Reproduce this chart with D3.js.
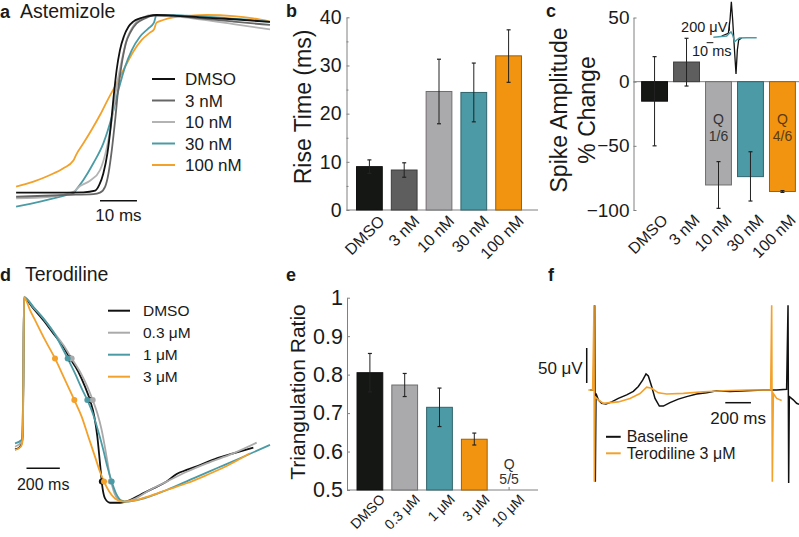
<!DOCTYPE html>
<html><head><meta charset="utf-8">
<script src="https://cdn.jsdelivr.net/npm/d3@7"></script>
<style>
body{margin:0;background:#fff}
svg{display:block}
text{font-family:"Liberation Sans",Arial,Helvetica,sans-serif;fill:#1a1a1a}
</style>
</head><body>
<svg id="chart" width="799" height="537"></svg>
<script>
// ---------------- DATA ----------------
// Panel a: Astemizole action potential upstrokes (time ms, normalized voltage)
const aDMSO = [[0.3,0.002],[9.5,0.002],[18.5,0.004],[21.7,0.013],[22.8,0.045],[23.9,0.11],[25.0,0.223],[25.9,0.373],[26.6,0.522],[27.5,0.691],[28.4,0.803],[29.5,0.882],[30.7,0.934],[32.0,0.963],[33.8,0.981],[36.1,0.994],[38.3,1.0],[42.8,0.996],[50.0,0.987],[59.1,0.976],[69.0,0.961]];
const a3nM = [[0.3,-0.021],[14.0,-0.011],[21.2,-0.006],[23.0,0.002],[24.4,0.036],[25.3,0.11],[26.2,0.242],[27.1,0.41],[28.0,0.597],[28.9,0.728],[30.0,0.841],[31.3,0.906],[32.9,0.953],[35.2,0.981],[37.4,0.996],[42.8,0.996],[50.0,0.981],[59.1,0.963],[69.0,0.944]];
const a10nM = [[0.3,-0.03],[9.5,-0.021],[15.8,0.007],[17.6,0.039],[20.3,0.069],[23.0,0.129],[24.8,0.251],[26.2,0.41],[27.5,0.597],[28.9,0.747],[30.2,0.86],[31.6,0.925],[32.9,0.963],[34.7,0.987],[37.4,1.0],[42.8,0.994],[50.0,0.976],[59.1,0.949],[69.0,0.919]];
const a30nM = [[0.3,-0.077],[6.8,-0.049],[14.0,-0.011],[16.0,0.002],[16.5,0.017],[18.5,0.073],[21.2,0.167],[23.9,0.279],[26.2,0.429],[28.0,0.579],[29.8,0.71],[31.6,0.803],[33.8,0.878],[36.1,0.925],[37.6,0.957],[38.3,1.0],[41.0,1.0],[46.5,0.996],[54.6,0.987],[63.6,0.972],[69.0,0.961]];
const a100nM = [[0.3,0.036],[5.0,0.064],[9.5,0.101],[13.1,0.139],[15.8,0.182],[16.5,0.213],[18.5,0.279],[20.7,0.354],[23.0,0.438],[25.3,0.532],[27.5,0.616],[29.8,0.71],[32.0,0.794],[34.3,0.86],[36.5,0.901],[37.6,0.919],[38.3,0.957],[40.1,0.972],[42.8,0.987],[46.5,0.994],[51.9,1.0],[59.1,0.994],[64.5,0.981],[69.0,0.963]];
const aNames = ["DMSO","3 nM","10 nM","30 nM","100 nM"];
const aColors = ["#111111","#666666","#b3b3b3","#4a9ba5","#f3a12a"];
const aScaleBar = [23, 33]; // 10 ms

// Panel b: rise time (ms)
const bCats = ["DMSO","3 nM","10 nM","30 nM","100 nM"];
const bRise = [9.0, 8.3, 24.6, 24.4, 32.0];
const bLo = [7.6, 6.8, 17.9, 18.3, 26.5];
const bHi = [10.4, 9.8, 31.3, 30.5, 37.4];
const bTicks = [0,10,20,30,40];
const bMinor = [5,15,25,35];
const barColors = ["#151715","#5e5e5e","#aaa9ab","#4b9aa5","#f29410"];

// Panel c: spike amplitude % change
const cCats = ["DMSO","3 nM","10 nM","30 nM","100 nM"];
const cAmp = [-15.2, 15.3, -80.5, -74.0, -85.6];
const cLo = [-50, -3.4, -98.7, -93, -86.3];
const cHi = [19.5, 33.8, -62.3, -54.6, -84.9];
const cTicks = [50, 0, -50, -100];
const cQ = [null, null, "1/6", null, "4/6"];
// Panel c inset field potential spikes (ms, µV)
const iBlack = [[13,25],[23,92],[25.5,425],[27.5,883],[29.5,425],[32.5,-408],[34.5,-925],[36.5,-325],[38.5,-75],[43,-25]];
const iTeal = [[0.5,-8],[20.5,25],[24.5,92],[27,125],[29.5,50],[32.5,-117],[35.5,-75],[39.5,-25],[50.5,-17],[65.5,-17]];

// Panel d: Terodiline action potentials (ms, normalized voltage)
const dDMSO = [[6,0.255],[36,0.268],[46,0.285],[52,0.317],[56,0.577],[60,0.992],[76,0.984],[116,0.943],[176,0.886],[236,0.821],[296,0.756],[336,0.699],[386,0.634],[426,0.561],[456,0.496],[482,0.415],[500,0.317],[516,0.187],[530,0.073],[546,0.016],[576,-0.005],[636,-0.005],[696,0.008],[756,0.033],[836,0.065],[916,0.098],[976,0.135],[1036,0.155],[1116,0.179],[1216,0.212],[1316,0.236],[1436,0.264]];
const d03 = [[6,0.268],[46,0.293],[56,0.577],[60,1.0],[116,0.948],[176,0.894],[236,0.829],[296,0.764],[346,0.699],[396,0.634],[440,0.561],[472,0.496],[500,0.431],[526,0.35],[552,0.236],[576,0.122],[596,0.057],[626,0.011],[666,0.0],[716,0.011],[816,0.057],[916,0.098],[1036,0.146],[1156,0.187],[1316,0.236],[1456,0.288]];
const d1 = [[6,0.285],[46,0.301],[56,0.577],[60,0.997],[116,0.951],[176,0.894],[236,0.829],[286,0.756],[322,0.699],[366,0.626],[406,0.553],[440,0.496],[476,0.423],[506,0.342],[536,0.252],[560,0.171],[586,0.098],[612,0.041],[646,0.005],[676,0.0],[756,0.011],[916,0.057],[1076,0.114],[1216,0.163],[1356,0.212],[1536,0.277]];
const d3uM = [[6,0.252],[40,0.268],[52,0.301],[56,0.577],[60,0.997],[96,0.935],[136,0.87],[186,0.789],[246,0.699],[306,0.594],[362,0.496],[406,0.415],[446,0.317],[486,0.22],[516,0.146],[540,0.098],[572,0.049],[606,0.016],[656,0.0],[716,0.005],[816,0.028],[916,0.057],[1036,0.09],[1156,0.13],[1276,0.174],[1416,0.236]];
const dDotsDMSO = [[336,0.699],[456,0.496],[527,0.098]];
const dDots03 = [[346,0.699],[472,0.496],[580,0.098]];
const dDots1 = [[322,0.699],[440,0.496],[586,0.098]];
const dDots3 = [[246,0.699],[362,0.496],[540,0.098]];
const dNames = ["DMSO","0.3 \u03bcM","1 \u03bcM","3 \u03bcM"];
const dColors = ["#111111","#aaaaaa","#4a9ba5","#f3a12a"];
const dScaleBar = [75, 275]; // 200 ms

// Panel e: triangulation ratio
const eCats = ["DMSO","0.3 \u03bcM","1 \u03bcM","3 \u03bcM","10 \u03bcM"];
const eVal = [0.805, 0.773, 0.715, 0.632, null];
const eLo = [0.755, 0.743, 0.665, 0.617, null];
const eHi = [0.855, 0.803, 0.765, 0.648, null];
const eTicks = [0.5,0.6,0.7,0.8,0.9,1];
const eColors = ["#151715","#aaa9ab","#4b9aa5","#f29410","#ffffff"];

// Panel f: field potentials (ms, µV)
const fBase = [[15.6,0],[41.6,0],[46.8,57],[52,121],[57.1,-131],[62.4,-5],[80.5,-14],[106.5,-19],[140.3,-20],[184.5,-17],[236.4,-12],[301.4,-7],[353.3,-2],[392.3,5],[426.1,14],[452.1,23],[470.2,20],[496.2,5],[522.2,-12],[556,-23],[587.2,-23],[639.1,-18],[704.1,-13],[769,-9.5],[847,-5.7],[925,-3.8],[1003,-1],[1107,-2],[1237,-1],[1367,0],[1470,0],[1548,1],[1559,121],[1564,-133],[1569,-9.5],[1600,-14],[1626,-19],[1645,-20.5]];
const fTero = [[2.6,0],[36.4,0],[41.6,57],[46.8,121],[49.4,-131],[54.6,-9.5],[80.5,-14],[119.5,-19],[171.5,-18],[236.4,-17],[327.4,-12],[405.3,-5],[457.3,4],[496.2,2.4],[548.2,-4],[613.2,-5.7],[743,-4.8],[899,-2.4],[1055,-1],[1237,0],[1367,0],[1424,0],[1431.6,121],[1436.7,-131],[1444.5,-5],[1470.5,-12],[1509.5,-15]];
const fNames = ["Baseline","Terodiline 3 \u03bcM"];
const fColors = ["#111111","#f3a12a"];
const fScaleT = [1070, 1270]; // 200 ms
const fScaleV = [10, 60];     // 50 µV

// ---------------- DRAW ----------------
const svg = d3.select("#chart");
const AX = "#808080";

function panelLabel(x, y, letter, title, tx, tfs) {
  const t = svg.append("text").attr("x", x).attr("y", y).attr("font-size", 18);
  t.append("tspan").attr("font-weight", "bold").text(letter);
  if (title) svg.append("text").attr("x", tx).attr("y", y).attr("font-size", tfs).text(title);
}

// ---- Panel a ----
const aX = d3.scaleLinear().domain([0, 69]).range([15, 270]);
const aY = d3.scaleLinear().domain([0, 1]).range([193, 15]);
const aLine = d3.line().x(d => aX(d[0])).y(d => aY(d[1])).curve(d3.curveMonotoneX);
const aSeries = [aDMSO, a3nM, a10nM, a30nM, a100nM];
[4,3,2,1,0].forEach(i => {
  svg.append("path").attr("d", aLine(aSeries[i])).attr("fill","none")
    .attr("stroke", aColors[i]).attr("stroke-width", 1.8);
});
panelLabel(0, 18, "a", "Astemizole", 20, 19.5);
const aLeg = svg.append("g");
aNames.forEach((n, i) => {
  const y = 79 + i * 21.5;
  aLeg.append("line").attr("x1",152).attr("x2",175).attr("y1",y).attr("y2",y).attr("stroke",aColors[i]).attr("stroke-width",2);
  aLeg.append("text").attr("x",185).attr("y",y).attr("dy","0.36em").attr("font-size",17).text(n);
});
svg.append("line").attr("x1",aX(aScaleBar[0])).attr("x2",aX(aScaleBar[1])).attr("y1",200.7).attr("y2",200.7).attr("stroke","#111").attr("stroke-width",1.5);
svg.append("text").attr("x",(aX(aScaleBar[0])+aX(aScaleBar[1]))/2).attr("y",220.5).attr("text-anchor","middle").attr("font-size",17).text("10 ms");

// ---- generic bar helpers ----
function catLabels(g, scale, cats, y0, fs, off) {
  cats.forEach(c => {
    g.append("text")
      .attr("transform", `translate(${scale(c) + scale.bandwidth()/2 + off},${y0}) rotate(-45)`)
      .attr("text-anchor","end").attr("dy","0.72em").attr("font-size",fs).text(c);
  });
}
function errBars(g, scale, y, cats, lo, hi) {
  cats.forEach((c, i) => {
    if (lo[i] == null) return;
    const cx = scale(c) + scale.bandwidth()/2;
    g.append("line").attr("x1",cx).attr("x2",cx).attr("y1",y(lo[i])).attr("y2",y(hi[i])).attr("stroke","#222").attr("stroke-width",1);
    [lo[i], hi[i]].forEach(v => g.append("line").attr("x1",cx-2).attr("x2",cx+2).attr("y1",y(v)).attr("y2",y(v)).attr("stroke","#222").attr("stroke-width",1.2));
  });
}
function styleAxis(g, fs) {
  g.select(".domain").attr("stroke", AX);
  g.selectAll(".tick line").attr("stroke", AX);
  g.selectAll(".tick text").attr("font-size", fs).attr("fill","#1a1a1a").attr("font-family",'"Liberation Sans",Arial,sans-serif');
}

// ---- Panel b ----
const bX = d3.scaleBand().domain(bCats).range([352, 526]).paddingInner(0.26).paddingOuter(0.13);
const bY = d3.scaleLinear().domain([0, 40]).range([210, 17.3]);
const gb = svg.append("g");
gb.append("line").attr("x1",346.5).attr("x2",538).attr("y1",bY(0)).attr("y2",bY(0)).attr("stroke",AX);
bCats.forEach(c => gb.append("line").attr("x1",bX(c)+bX.bandwidth()/2).attr("x2",bX(c)+bX.bandwidth()/2).attr("y1",bY(0)).attr("y2",bY(0)-3).attr("stroke",AX));
gb.selectAll("rect").data(bRise).enter().append("rect")
  .attr("x",(d,i)=>bX(bCats[i])).attr("width",bX.bandwidth())
  .attr("y",d=>bY(d)).attr("height",d=>bY(0)-bY(d))
  .attr("fill",(d,i)=>barColors[i]).attr("stroke",(d,i)=>d3.color(barColors[i]).darker(1.2)).attr("stroke-width",1);
errBars(gb, bX, bY, bCats, bLo, bHi);
const bAx = gb.append("g").attr("transform","translate(346.5,0)")
  .call(d3.axisLeft(bY).tickValues(bTicks).tickSize(-3).tickSizeOuter(0).tickPadding(5));
styleAxis(bAx, 19.5);
const bAx2 = gb.append("g").attr("transform","translate(346.5,0)")
  .call(d3.axisLeft(bY).tickValues(bMinor).tickSize(-2).tickSizeOuter(0).tickFormat(""));
bAx2.select(".domain").remove(); bAx2.selectAll(".tick line").attr("stroke",AX);
gb.append("text").attr("transform","translate(311,107) rotate(-90)").attr("text-anchor","middle").attr("font-size",23).text("Rise Time (ms)");
catLabels(gb, bX, bCats, 214, 16, 8);
panelLabel(286, 16.5, "b");

// ---- Panel c ----
const cX = d3.scaleBand().domain(cCats).range([636.5, 800.5]).paddingInner(0.19).paddingOuter(0.16);
const cY = d3.scaleLinear().domain([-100, 50]).range([210, 17.5]);
const gc = svg.append("g");
gc.append("line").attr("x1",633.5).attr("x2",799).attr("y1",cY(0)).attr("y2",cY(0)).attr("stroke",AX);
gc.selectAll("rect").data(cAmp).enter().append("rect")
  .attr("x",(d,i)=>cX(cCats[i])).attr("width",cX.bandwidth())
  .attr("y",d=>cY(Math.max(0,d))).attr("height",d=>Math.abs(cY(d)-cY(0)))
  .attr("fill",(d,i)=>barColors[i]).attr("stroke",(d,i)=>d3.color(barColors[i]).darker(1.2)).attr("stroke-width",1);
errBars(gc, cX, cY, cCats, cLo, cHi);
cQ.forEach((q, i) => {
  if (!q) return;
  const cx = cX(cCats[i]) + cX.bandwidth()/2;
  const col = i === 4 ? "#5a3b12" : "#333";
  gc.append("text").attr("x",cx).attr("y",124).attr("text-anchor","middle").attr("font-size",14).style("fill",col).text("Q");
  gc.append("text").attr("x",cx).attr("y",140.5).attr("text-anchor","middle").attr("font-size",14).style("fill",col).text(q);
});
const cAx = gc.append("g").attr("transform","translate(633.5,0)")
  .call(d3.axisLeft(cY).tickValues(cTicks).tickSize(-3).tickSizeOuter(0).tickPadding(4));
styleAxis(cAx, 19);
gc.append("text").attr("transform","translate(567,110) rotate(-90)").attr("text-anchor","middle").attr("font-size",23).text("Spike Amplitude");
gc.append("text").attr("transform","translate(595,110) rotate(-90)").attr("text-anchor","middle").attr("font-size",23).text("% Change");
catLabels(gc, cX, cCats, 213, 16, 6);
panelLabel(546, 16.5, "c");
// inset
const iX = d3.scaleLinear().domain([0, 70]).range([713, 759.7]);
const iY = d3.scaleLinear().domain([-1000, 1000]).range([77, -3]);
const iLine = d3.line().x(d => iX(d[0])).y(d => iY(d[1]));
gc.append("path").attr("d", iLine(iBlack)).attr("fill","none").attr("stroke","#111").attr("stroke-width",1.3);
gc.append("path").attr("d", iLine(iTeal)).attr("fill","none").attr("stroke","#4a9ba5").attr("stroke-width",1.5);
gc.append("line").attr("x1",iX(24.5)).attr("x2",iX(24.5)).attr("y1",iY(157)).attr("y2",iY(357)).attr("stroke","#111").attr("stroke-width",1);
gc.append("line").attr("x1",iX(-9.5)).attr("x2",iX(0.5)).attr("y1",iY(-142)).attr("y2",iY(-142)).attr("stroke","#111").attr("stroke-width",1);
gc.append("text").attr("x",iX(24.5)-2).attr("y",31.5).attr("text-anchor","end").attr("font-size",14.5).text("200 \u03bcV");
gc.append("text").attr("x",692).attr("y",56).attr("font-size",14.5).text("10 ms");

// ---- Panel d ----
const dX = d3.scaleLinear().domain([0, 1536]).range([14, 270]);
const dY = d3.scaleLinear().domain([0, 1]).range([501.7, 296.7]);
const dLine = d3.line().x(d => dX(d[0])).y(d => dY(d[1])).curve(d3.curveMonotoneX);
const dSeries = [dDMSO, d03, d1, d3uM];
const dDots = [dDotsDMSO, dDots03, dDots1, dDots3];
dSeries.forEach((s, i) => svg.append("path").attr("d", dLine(s)).attr("fill","none").attr("stroke", dColors[i]).attr("stroke-width",1.8));
dDots.forEach((s, i) => s.forEach(p => svg.append("circle").attr("cx",dX(p[0])).attr("cy",dY(p[1])).attr("r",3).attr("fill",dColors[i])));
panelLabel(0, 281, "d", "Terodiline", 25, 19.5);
dNames.forEach((n, i) => {
  const y = 310.7 + i * 22;
  svg.append("line").attr("x1",108).attr("x2",130).attr("y1",y).attr("y2",y).attr("stroke",dColors[i]).attr("stroke-width",2);
  svg.append("text").attr("x",143).attr("y",y).attr("dy","0.36em").attr("font-size",15.5).text(n);
});
svg.append("line").attr("x1",dX(dScaleBar[0])).attr("x2",dX(dScaleBar[1])).attr("y1",468.3).attr("y2",468.3).attr("stroke","#111").attr("stroke-width",1.5);
svg.append("text").attr("x",(dX(dScaleBar[0])+dX(dScaleBar[1]))/2).attr("y",490).attr("text-anchor","middle").attr("font-size",16).text("200 ms");

// ---- Panel e ----
const eX = d3.scaleBand().domain(eCats).range([352.5, 526.5]).paddingInner(0.26).paddingOuter(0.13);
const eY = d3.scaleLinear().domain([0.5, 1]).range([490, 297.7]);
const ge = svg.append("g");
ge.append("line").attr("x1",347).attr("x2",538).attr("y1",eY(0.5)).attr("y2",eY(0.5)).attr("stroke",AX);
eCats.forEach(c => ge.append("line").attr("x1",eX(c)+eX.bandwidth()/2).attr("x2",eX(c)+eX.bandwidth()/2).attr("y1",eY(0.5)).attr("y2",eY(0.5)-3).attr("stroke",AX));
ge.selectAll("rect").data(eVal).enter().filter(d => d != null).append("rect")
  .attr("x",(d,i)=>eX(eCats[i])).attr("width",eX.bandwidth())
  .attr("y",d=>eY(d)).attr("height",d=>eY(0.5)-eY(d))
  .attr("fill",(d,i)=>eColors[i]).attr("stroke",(d,i)=>d3.color(eColors[i]).darker(1.2)).attr("stroke-width",1);
errBars(ge, eX, eY, eCats, eLo, eHi);
const eAx = ge.append("g").attr("transform","translate(347,0)")
  .call(d3.axisLeft(eY).tickValues(eTicks).tickSize(-3).tickSizeOuter(0).tickPadding(4).tickFormat(d3.format("~g")));
styleAxis(eAx, 21.5);
ge.append("text").attr("transform","translate(305,392) rotate(-90)").attr("text-anchor","middle").attr("font-size",21).text("Triangulation Ratio");
const eQx = eX(eCats[4]) + eX.bandwidth()/2;
ge.append("text").attr("x",eQx).attr("y",469).attr("text-anchor","middle").attr("font-size",14).style("fill","#333").text("Q");
ge.append("text").attr("x",eQx).attr("y",483.5).attr("text-anchor","middle").attr("font-size",14).style("fill","#333").text("5/5");
catLabels(ge, eX, eCats, 493, 14, 9);
panelLabel(286, 281, "e");

// ---- Panel f ----
const fX = d3.scaleLinear().domain([0, 1650]).range([588, 799.7]);
const fY = d3.scaleLinear().domain([-150, 150]).range([495, 285]);
const fLine = d3.line().x(d => fX(d[0])).y(d => fY(d[1]));
svg.append("path").attr("d", fLine(fBase)).attr("fill","none").attr("stroke",fColors[0]).attr("stroke-width",1.5);
svg.append("path").attr("d", fLine(fTero)).attr("fill","none").attr("stroke",fColors[1]).attr("stroke-width",1.6);
svg.append("line").attr("x1",fX(-10)).attr("x2",fX(-10)).attr("y1",fY(fScaleV[0])).attr("y2",fY(fScaleV[1])).attr("stroke","#111").attr("stroke-width",1.5);
svg.append("text").attr("x",fX(-10)-4).attr("y",374).attr("text-anchor","end").attr("font-size",17).text("50 \u03bcV");
svg.append("line").attr("x1",fX(fScaleT[0])).attr("x2",fX(fScaleT[1])).attr("y1",402.7).attr("y2",402.7).attr("stroke","#111").attr("stroke-width",1.5);
svg.append("text").attr("x",(fX(fScaleT[0])+fX(fScaleT[1]))/2).attr("y",424).attr("text-anchor","middle").attr("font-size",17).text("200 ms");
fNames.forEach((n, i) => {
  const y = 436.8 + i * 16.5;
  svg.append("line").attr("x1",606).attr("x2",620.7).attr("y1",y).attr("y2",y).attr("stroke",fColors[i]).attr("stroke-width",2);
  svg.append("text").attr("x",626.7).attr("y",y).attr("dy","0.35em").attr("font-size",16).text(n);
});
panelLabel(548, 281, "f");
</script>
</body></html>
